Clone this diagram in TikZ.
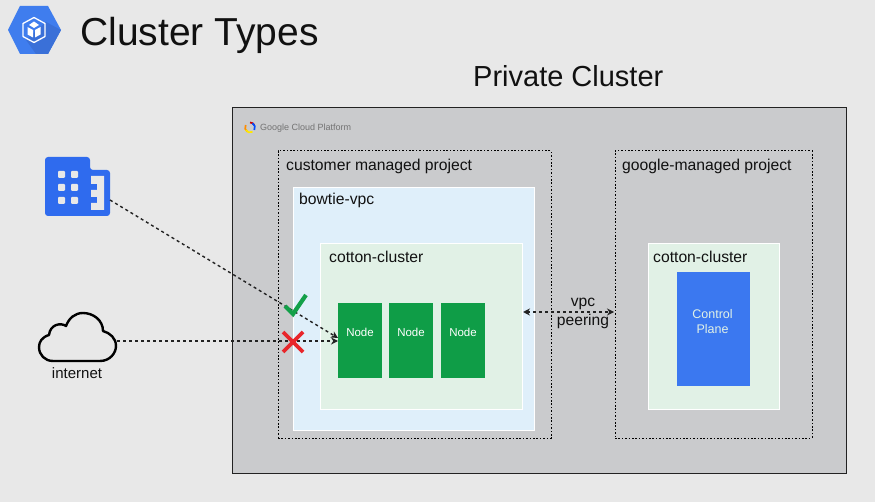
\documentclass[tikz,border=0pt]{standalone}
\usepackage{fontspec}
\setmainfont{Liberation Sans}
\usetikzlibrary{arrows.meta}
\definecolor{bgc}{HTML}{E8E8E8}
\definecolor{gcpc}{HTML}{CACBCD}
\definecolor{vpcc}{HTML}{DFEFFA}
\definecolor{clusterc}{HTML}{E1F1E6}
\definecolor{nodec}{HTML}{0F9D47}
\definecolor{planec}{HTML}{3B78F0}
\definecolor{iconc}{HTML}{2F6BEE}
\definecolor{gkec}{HTML}{3F7DEE}
\definecolor{gked}{HTML}{3A70D8}
\definecolor{linec}{HTML}{222222}
\definecolor{crossc}{HTML}{E8262B}
\definecolor{checkc}{HTML}{13A049}
\definecolor{txtc}{HTML}{111111}
\tikzset{
  x=1pt,y=-1pt,
  box/.style={anchor=north west,inner sep=0pt,outer sep=0pt},
  dotbox/.style={box,draw=black,line width=1pt,dash pattern=on 1.6pt off 1.8pt},
  vpcbox/.style={box,fill=vpcc,draw=white,line width=0.9pt},
  clusterbox/.style={box,fill=clusterc,draw=white,line width=0.9pt},
  nodebox/.style={box,fill=nodec,minimum width=44pt,minimum height=75pt},
  nodetext/.style={text=white,font=\fontsize{11.5}{13}\selectfont,align=center},
  lbl/.style={anchor=base west,inner sep=0pt,text=txtc,font=\fontsize{15.7}{18}\selectfont},
  conn/.style={draw=linec,line width=1.4pt,dash pattern=on 3pt off 3pt,-{Stealth[length=7pt,width=7pt]}},
}
\begin{document}
\begin{tikzpicture}
\useasboundingbox (0,0) rectangle (875,502);
\fill[bgc] (0,0) rectangle (875,502);
% GKE icon
\fill[gkec] (8,30) -- (20,6) -- (48,6) -- (61,30) -- (48,54) -- (20,54) -- cycle;
\fill[gked] (46,22) -- (61,30) -- (48,54) -- (36,54) -- (26,40) -- cycle;
\draw[white,line width=1.3pt,line join=round] (34,17.5) -- (45,23.5) -- (45,36.5) -- (34,42.5) -- (23,36.5) -- (23,23.5) -- cycle;
\fill[white] (34,21.5) -- (39,25) -- (34,28) -- (29,25) -- cycle;
\fill[white] (27.5,27) -- (33,30) -- (33,37.5) -- (27.5,34.5) -- cycle;
\fill[white] (40.5,27) -- (35,30) -- (35,37.5) -- (40.5,34.5) -- cycle;
\node[anchor=base west,inner sep=0pt,text=txtc,font=\fontsize{39}{42}\selectfont] (title) at (80,46) {Cluster Types};
\node[anchor=base west,inner sep=0pt,text=txtc,font=\fontsize{29}{32}\selectfont] (private) at (473,87) {Private Cluster};
% GCP frame
\node[box,fill=gcpc,draw=linec,line width=0.9pt,minimum width=614pt,minimum height=366pt] (gcp) at (232,107) {};
\draw[line width=1.7pt,red!80!black] (250,122.5) arc[start angle=-90,end angle=-30,radius=5];
\draw[line width=1.7pt,orange!90!yellow] (245.7,125) arc[start angle=210,end angle=120,radius=5];
\draw[line width=1.7pt,yellow!90!orange] (245.7,130) arc[start angle=150,end angle=60,radius=5];
\draw[line width=1.7pt,blue!70!cyan] (254.3,130) arc[start angle=30,end angle=-60,radius=5];
\node[anchor=base west,inner sep=0pt,text=black!55,font=\fontsize{9}{11}\selectfont] (gcptext) at (260,131) {Google Cloud Platform};
% Projects
\node[dotbox,minimum width=273pt,minimum height=287pt] (cust) at (278,151) {};
\node[lbl] at (286,171) {customer managed project};
\node[vpcbox,minimum width=241pt,minimum height=243pt] (vpc) at (293,187) {};
\node[lbl] at (299,205) {bowtie-vpc};
\node[clusterbox,minimum width=202pt,minimum height=166pt] (cl1) at (320,243) {};
\node[lbl] at (329,263) {cotton-cluster};
\node[nodebox] (n1) at (338,303) {};
\node[nodebox] (n2) at (389,303) {};
\node[nodebox] (n3) at (441,303) {};
\node[nodetext] at (n1.center) [yshift=8pt] {Node};
\node[nodetext] at (n2.center) [yshift=8pt] {Node};
\node[nodetext] at (n3.center) [yshift=8pt] {Node};
\node[dotbox,minimum width=197pt,minimum height=287pt] (goog) at (615,151) {};
\node[lbl] at (622,171) {google-managed project};
\node[clusterbox,minimum width=131pt,minimum height=166pt] (cl2) at (648,243) {};
\node[lbl] at (653,263) {cotton-cluster};
\node[box,fill=planec,minimum width=73pt,minimum height=114pt] (plane) at (677,272) {};
\node[text=clusterc,font=\fontsize{12.5}{15}\selectfont,align=center,inner sep=0pt] (planetext) at (712.5,322) {Control\\Plane};
% Building icon
\fill[iconc,rounded corners=3pt] (45,157) -- (90,157) -- (90,170) -- (110,170) -- (110,216) -- (45,216) -- cycle;
\foreach \px in {58,71} \foreach \py in {171,184,197} {
  \fill[bgc,rounded corners=1pt] (\px,\py) rectangle ++(7,7);
}
\fill[bgc] (91,176) -- (104,176) -- (104,210) -- (91,210) -- (91,203) -- (97,203) -- (97,197) -- (91,197) -- (91,190) -- (97,190) -- (97,184) -- (91,184) -- cycle;
\coordinate (bldg) at (110,200);
% Cloud
\draw[black,line width=2.4pt,line join=round] (53,361) -- (100,361)
  .. controls (110,361) and (116,353) .. (116,346)
  .. controls (116,338) and (110,333) .. (103,331)
  .. controls (103,320) and (93,313) .. (83,313)
  .. controls (75,313) and (69,318) .. (66,326)
  .. controls (60,322) and (50,325) .. (49,335)
  .. controls (42,337) and (39,342) .. (39,347)
  .. controls (39,355) and (45,361) .. (53,361) -- cycle;
\coordinate (cloud) at (117,341);
\node[anchor=base,inner sep=0pt,text=txtc,font=\fontsize{15}{17}\selectfont] (inet) at (77,378) {internet};
% Connectors
\coordinate (n1a) at (338,338);
\coordinate (n1b) at (338,341);
\draw[conn] (bldg) -- (n1a);
\draw[conn] (cloud) -- (n1b);
\coordinate (pl) at (523,312);
\coordinate (pr) at (614,312);
\draw[conn,{Stealth[length=7pt,width=7pt]}-{Stealth[length=7pt,width=7pt]}] (pl) -- (pr);
\node[anchor=base,inner sep=0pt,text=txtc,font=\fontsize{15.6}{17}\selectfont] (vpcl) at (583,307) {vpc};
\node[anchor=base,inner sep=0pt,text=txtc,font=\fontsize{15.6}{17}\selectfont] (peer) at (583,326) {peering};
% Marks
\draw[checkc,line width=4.2pt] (285,306) -- (293,314) -- (306,295);
\draw[crossc,line width=3.6pt] (283,332) -- (303,352) (303,332) -- (283,352);
\end{tikzpicture}
\end{document}
